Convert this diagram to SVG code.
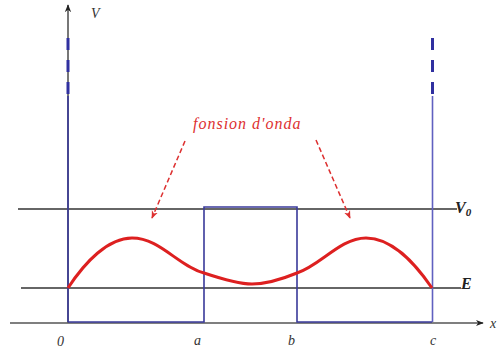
<svg xmlns="http://www.w3.org/2000/svg" width="501" height="354" viewBox="0 0 501 354">
<style>
.axis{stroke:#555;stroke-width:1.6;fill:none}
.lvl{stroke:#666;stroke-width:2;fill:none}
.blue{stroke:#3a3a9a;stroke-width:1.6;fill:none}
.wall{stroke:#6060c0;stroke-width:1.6;fill:none}
.dash{stroke:#3030a0;stroke-width:3;fill:none;stroke-dasharray:12 10}
.wave{stroke:#dd2020;stroke-width:3;fill:none}
.ptr{stroke:#dd3030;stroke-width:1.5;fill:none;stroke-dasharray:5 3}
.lab{font-family:"Liberation Serif",serif;font-style:italic;fill:#333;font-size:14px}
.big{font-family:"Liberation Serif",serif;font-style:italic;font-weight:bold;fill:#222;font-size:16px}
.red{font-family:"Liberation Serif",serif;font-style:italic;fill:#dd3030;font-size:16px;letter-spacing:1px}
</style>
<defs>
<marker id="ah" viewBox="0 0 10 10" refX="9" refY="5" markerWidth="8" markerHeight="8" orient="auto" markerUnits="userSpaceOnUse">
<path d="M0,1 L10,5 L0,9 L3,5 Z" fill="#222"/>
</marker>
<marker id="rh" viewBox="0 0 10 10" refX="9" refY="5" markerWidth="8" markerHeight="8" orient="auto" markerUnits="userSpaceOnUse">
<path d="M0,1 L10,5 L0,9 L3,5 Z" fill="#dd3030"/>
</marker>
</defs>
<g id="levels">
<line class="lvl" x1="18" y1="209" x2="457" y2="209"/>
<line class="lvl" x1="21" y1="288" x2="461" y2="288"/>
</g>
<g id="axes">
<line class="axis" x1="10" y1="323" x2="483" y2="323" marker-end="url(#ah)"/>
<line class="axis" x1="68" y1="323" x2="68" y2="5" marker-end="url(#ah)"/>
<text class="lab" x="490" y="328">x</text>
<text class="lab" x="91" y="18">V</text>
</g>
<g id="potential">
<path class="blue" d="M68,322 H204 V207 H297 V322 H432"/>
<line class="blue" x1="68" y1="96" x2="68" y2="322"/>
<line class="wall" x1="432.5" y1="96" x2="432.5" y2="322"/>
<line class="dash" x1="68" y1="38" x2="68" y2="96"/>
<line class="dash" x1="432.5" y1="38" x2="432.5" y2="96"/>
</g>
<g id="wave">
<path class="wave" d="M68,288 C85,262 108,238 132,238 C160,238 178,266 204,273 C225,280 240,284 252,284 C265,284 280,280 297,273 C320,266 340,238 366,238 C392,238 414,262 432,288"/>
</g>
<g id="connectors">
<line class="ptr" x1="185" y1="141" x2="152" y2="218" marker-end="url(#rh)"/>
<line class="ptr" x1="316" y1="140" x2="350" y2="218" marker-end="url(#rh)"/>
</g>
<g id="labels">
<text class="red" x="193" y="129">fonsion d'onda</text>
<text class="big" x="455" y="213">V<tspan font-size="11" dy="3">0</tspan></text>
<text class="big" x="461" y="289">E</text>
<text class="lab" x="57" y="346">0</text>
<text class="lab" x="194" y="345">a</text>
<text class="lab" x="288" y="345">b</text>
<text class="lab" x="430" y="345">c</text>
</g>
</svg>
